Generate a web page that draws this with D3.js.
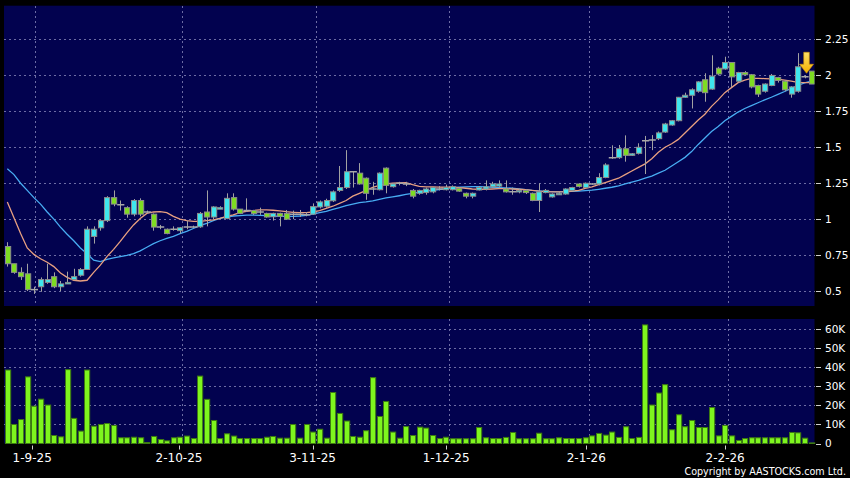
<!DOCTYPE html>
<html><head><meta charset="utf-8">
<script src="https://cdn.jsdelivr.net/npm/d3@7"></script>
<style>html,body{margin:0;padding:0;background:#000;}svg{display:block;}</style>
</head><body>
<svg id="chart" width="850" height="478"></svg>
<script>
// ---- data ----
const openP  = [0.81,0.69,0.63,0.62,0.51,0.53,0.56,0.60,0.53,0.555,0.58,0.61,0.65,0.88,0.94,0.99,1.15,1.10,1.08,1.035,1.13,1.05,1.035,0.945,0.93,0.93,0.92,0.945,0.945,0.947,1.05,1.015,1.07,1.005,1.15,1.07,1.06,1.06,1.05,1.04,1.017,1.04,1.04,1.035,1.035,1.03,1.035,1.085,1.09,1.128,1.20,1.22,1.33,1.32,1.285,1.21,1.205,1.355,1.226,1.25,1.245,1.20,1.18,1.185,1.19,1.21,1.205,1.205,1.215,1.18,1.16,1.203,1.21,1.225,1.23,1.21,1.19,1.19,1.20,1.18,1.13,1.185,1.155,1.175,1.175,1.20,1.245,1.22,1.245,1.245,1.29,1.428,1.428,1.49,1.444,1.458,1.546,1.55,1.56,1.606,1.655,1.685,1.848,1.862,1.89,1.97,1.905,2.05,2.045,2.09,1.96,2.02,2.005,1.93,1.89,1.93,1.985,1.96,1.87,1.89,1.99,2.03];
const highP  = [0.84,0.69,0.665,0.69,0.53,0.595,0.69,0.63,0.57,0.635,0.655,0.66,0.95,0.95,1.00,1.16,1.20,1.13,1.09,1.14,1.145,1.06,1.04,0.96,0.935,0.95,0.945,0.99,0.955,1.05,1.20,1.09,1.09,1.18,1.18,1.07,1.145,1.065,1.08,1.045,1.045,1.045,1.064,1.06,1.064,1.05,1.11,1.13,1.142,1.20,1.37,1.48,1.33,1.39,1.29,1.26,1.325,1.36,1.25,1.26,1.26,1.21,1.205,1.22,1.225,1.23,1.24,1.235,1.22,1.185,1.185,1.23,1.27,1.26,1.27,1.27,1.22,1.21,1.21,1.185,1.25,1.21,1.18,1.19,1.215,1.225,1.25,1.255,1.25,1.32,1.389,1.514,1.516,1.583,1.46,1.528,1.579,1.585,1.61,1.67,1.69,1.85,1.88,1.91,1.96,2.015,2.14,2.06,2.13,2.09,2.025,2.03,2.01,1.935,1.945,2.01,1.99,1.965,1.925,2.155,2.0,2.03];
const lowP   = [0.67,0.62,0.577,0.50,0.48,0.495,0.55,0.52,0.50,0.55,0.575,0.60,0.65,0.83,0.92,0.98,1.09,1.06,1.01,1.02,1.02,1.04,0.92,0.93,0.895,0.92,0.90,0.93,0.94,0.94,0.95,1.0,1.07,1.0,1.06,1.035,1.05,1.03,1.03,1.01,0.99,0.95,0.995,1.0,1.015,1.02,1.03,1.075,1.08,1.12,1.19,1.21,1.22,1.24,1.135,1.17,1.20,1.18,1.22,1.235,1.23,1.145,1.17,1.17,1.18,1.20,1.20,1.20,1.19,1.145,1.145,1.20,1.20,1.22,1.22,1.185,1.17,1.18,1.175,1.125,1.05,1.18,1.15,1.17,1.17,1.195,1.22,1.215,1.24,1.235,1.285,1.42,1.42,1.40,1.44,1.45,1.314,1.48,1.55,1.60,1.65,1.68,1.845,1.77,1.88,1.817,1.90,2.0,2.04,1.92,1.95,2.0,1.91,1.85,1.88,1.925,1.95,1.89,1.845,1.88,1.98,1.94];
const closeP = [0.69,0.63,0.60,0.51,0.51,0.58,0.58,0.53,0.55,0.56,0.60,0.65,0.93,0.93,0.99,1.15,1.105,1.10,1.035,1.13,1.035,1.05,0.945,0.945,0.90,0.93,0.94,0.945,0.945,1.04,1.015,1.085,1.08,1.145,1.07,1.04,1.06,1.04,1.05,1.015,1.04,1.02,1.0,1.035,1.035,1.03,1.087,1.12,1.13,1.19,1.22,1.33,1.33,1.245,1.18,1.21,1.32,1.235,1.245,1.25,1.245,1.16,1.20,1.21,1.22,1.21,1.22,1.226,1.195,1.16,1.18,1.22,1.225,1.245,1.245,1.19,1.19,1.20,1.185,1.13,1.19,1.20,1.175,1.18,1.21,1.22,1.228,1.25,1.245,1.29,1.377,1.428,1.49,1.444,1.455,1.50,1.546,1.55,1.60,1.662,1.685,1.848,1.862,1.90,1.955,1.88,1.995,2.01,2.09,1.99,2.02,2.005,1.92,1.87,1.94,2.0,1.965,1.90,1.92,2.06,1.99,1.94];
// volume in thousands of shares
const volumeK = [38.6,10,12.6,35,19.6,23.3,20.2,4.2,3.5,38.8,13.2,6.5,38.6,9.1,10,10.5,9.5,3,3,3.3,3,0.5,3.7,2.1,1.4,3,3.3,3.9,2.6,35.4,23.2,12.1,2.6,5.1,3.9,2.6,2.6,2.6,2.6,3.3,3.7,2.8,2.8,10,2.8,10,6,7.5,2.8,26.8,15.8,11.8,3.7,3.3,6.7,34.6,14.2,22.1,6,2.8,8.9,4.2,8.6,8.1,4.2,2.6,3.3,2.5,2.5,2.5,2.5,8.4,3,2.6,2.6,3.2,5.8,2.5,2.5,2.5,5.4,2.5,2.5,3,2.6,2.6,2.6,3,4,5.3,4.4,6,3.2,8.8,2.6,3.2,62.3,20.2,26.5,30.9,7.2,15.1,8.8,12.1,8.4,8.4,18.9,4,9.5,4,1.6,2.6,3,3,3,3,3,3,5.8,5.6,2.8,0.3];
const maShort = [1.12,1.01,0.90,0.80,0.755,0.725,0.70,0.67,0.625,0.595,0.575,0.57,0.575,0.63,0.68,0.74,0.79,0.845,0.905,0.96,1.005,1.04,1.05,1.052,1.045,1.02,1.0,0.99,0.985,0.985,0.99,0.995,1.005,1.02,1.03,1.045,1.055,1.06,1.064,1.064,1.062,1.058,1.052,1.048,1.045,1.045,1.05,1.06,1.075,1.09,1.11,1.13,1.16,1.18,1.20,1.222,1.235,1.245,1.25,1.253,1.254,1.24,1.228,1.225,1.224,1.223,1.222,1.222,1.22,1.215,1.21,1.208,1.208,1.21,1.213,1.213,1.21,1.208,1.205,1.20,1.195,1.192,1.19,1.19,1.192,1.196,1.20,1.215,1.225,1.24,1.255,1.27,1.285,1.31,1.335,1.36,1.385,1.42,1.465,1.50,1.525,1.555,1.60,1.645,1.69,1.73,1.785,1.83,1.88,1.915,1.95,1.968,1.98,1.98,1.978,1.976,1.974,1.968,1.96,1.952,1.95,1.95];
const maLong  = [1.35,1.31,1.25,1.20,1.15,1.105,1.05,1.00,0.945,0.895,0.85,0.80,0.76,0.715,0.705,0.72,0.73,0.74,0.748,0.76,0.78,0.805,0.83,0.85,0.867,0.88,0.90,0.915,0.935,0.955,0.97,0.99,1.005,1.015,1.022,1.025,1.028,1.028,1.027,1.025,1.022,1.02,1.02,1.02,1.022,1.026,1.035,1.045,1.055,1.068,1.08,1.095,1.105,1.115,1.12,1.128,1.138,1.148,1.155,1.163,1.172,1.18,1.188,1.195,1.20,1.206,1.212,1.218,1.222,1.225,1.226,1.226,1.225,1.222,1.22,1.218,1.215,1.21,1.205,1.20,1.197,1.193,1.191,1.19,1.191,1.193,1.195,1.198,1.202,1.208,1.215,1.222,1.232,1.245,1.258,1.27,1.285,1.30,1.32,1.34,1.37,1.40,1.43,1.47,1.52,1.565,1.61,1.645,1.685,1.715,1.745,1.77,1.79,1.81,1.83,1.848,1.868,1.888,1.91,1.93,1.948,1.96];
const priceTicks = [0.5,0.75,1,1.25,1.5,1.75,2,2.25];
const volTicksK  = [0,10,20,30,40,50,60];
const dateTickIdx    = [4.2,26.3,46.4,66.5,87.6,108.5];
const dateTickLabels = ["1-9-25","2-10-25","3-11-25","1-12-25","2-1-26","2-2-26"];
const markerIdx = 120.3, markerTip = 2.015;

// ---- layout ----
const svg = d3.select("#chart");
const L = 4, R = 814.5;
const pTop = 5.7, pBot = 306, vTop = 319, vBot = 443.5;
const n = closeP.length;
const x = d3.scaleLinear().domain([-0.5, n - 0.5]).range([L, R]);
const yP = d3.scaleLinear().domain([0.396, 2.485]).range([pBot, pTop]);
const yV = d3.scaleLinear().domain([0, 65.4]).range([vBot, vTop]);
const idx = d3.range(n);
const bw = 5.2;
const font = "'DejaVu Sans', Verdana, sans-serif";
const gridCol = "#6c6ca4";

svg.append("rect").attr("width",850).attr("height",478).attr("fill","#000");
svg.append("rect").attr("x",L).attr("y",pTop).attr("width",R-L).attr("height",pBot-pTop).attr("fill","#02024f");
svg.append("rect").attr("x",L).attr("y",vTop).attr("width",R-L).attr("height",vBot-vTop).attr("fill","#02024f");

// grids
const grid = svg.append("g").attr("stroke",gridCol).attr("stroke-width",1).attr("stroke-dasharray","2,3").attr("shape-rendering","crispEdges");
grid.selectAll(".hp").data(priceTicks).join("line")
  .attr("x1",L).attr("x2",R).attr("y1",d=>Math.round(yP(d))+0.5).attr("y2",d=>Math.round(yP(d))+0.5);
grid.selectAll(".hv").data(volTicksK.filter(d=>d>0)).join("line").attr("class","hv")
  .attr("x1",L).attr("x2",R).attr("y1",d=>Math.round(yV(d))+0.5).attr("y2",d=>Math.round(yV(d))+0.5);
grid.selectAll(".vp").data(dateTickIdx).join("line").attr("class","vp")
  .attr("x1",d=>Math.round(x(d))+0.5).attr("x2",d=>Math.round(x(d))+0.5).attr("y1",pTop).attr("y2",pBot);
grid.selectAll(".vv").data(dateTickIdx).join("line").attr("class","vv")
  .attr("x1",d=>Math.round(x(d))+0.5).attr("x2",d=>Math.round(x(d))+0.5).attr("y1",vTop).attr("y2",vBot);

// price clip
svg.append("clipPath").attr("id","pclip").append("rect").attr("x",L).attr("y",pTop).attr("width",R-L).attr("height",pBot-pTop);
const pg = svg.append("g").attr("clip-path","url(#pclip)");

// moving averages
const line = arr => d3.line().x(i=>x(i)).y(i=>yP(arr[i])).curve(d3.curveLinear)(idx);
pg.append("path").attr("d",line(maLong)).attr("fill","none").attr("stroke","#48acf2").attr("stroke-width",1.3);
pg.append("path").attr("d",line(maShort)).attr("fill","none").attr("stroke","#e8a080").attr("stroke-width",1.3);

// wicks
pg.selectAll(".wick").data(idx).join("line").attr("class","wick")
  .attr("x1",i=>Math.round(x(i))+0.5).attr("x2",i=>Math.round(x(i))+0.5)
  .attr("y1",i=>yP(highP[i])).attr("y2",i=>yP(lowP[i]))
  .attr("stroke","#a2a2a2").attr("stroke-width",1);
// bodies
const up = i => closeP[i] > openP[i];
pg.selectAll(".body").data(idx.filter(i=>closeP[i]!==openP[i])).join("rect").attr("class","body")
  .attr("x",i=>Math.round(x(i)-bw/2)+0.5).attr("width",bw)
  .attr("y",i=>yP(Math.max(openP[i],closeP[i])))
  .attr("height",i=>Math.max(1.5, yP(Math.min(openP[i],closeP[i]))-yP(Math.max(openP[i],closeP[i]))))
  .attr("fill",i=>up(i)?"#3fe6ee":"#7edc22")
  .attr("stroke","#8c8c8c").attr("stroke-width",1);
pg.selectAll(".doji").data(idx.filter(i=>closeP[i]===openP[i])).join("line").attr("class","doji")
  .attr("x1",i=>x(i)-bw/2-0.5).attr("x2",i=>x(i)+bw/2+1.5)
  .attr("y1",i=>yP(closeP[i])).attr("y2",i=>yP(closeP[i]))
  .attr("stroke","#a8a8a8").attr("stroke-width",1.5);

// marker arrow
const ax = x(markerIdx), ay = yP(markerTip);
const defs = svg.append("defs");
const gr = defs.append("linearGradient").attr("id","ag").attr("x1",0).attr("y1",0).attr("x2",0).attr("y2",1);
gr.append("stop").attr("offset","0").attr("stop-color","#ffe066");
gr.append("stop").attr("offset","1").attr("stop-color","#f2b000");
svg.append("path")
  .attr("d",`M${ax-2.8},${ay-21} L${ax+2.8},${ay-21} L${ax+2.8},${ay-9} L${ax+7},${ay-9} L${ax},${ay} L${ax-7},${ay-9} L${ax-2.8},${ay-9} Z`)
  .attr("fill","url(#ag)").attr("stroke","#d09000").attr("stroke-width",0.6);

// volume bars
svg.append("g").selectAll("rect").data(idx).join("rect")
  .attr("x",i=>Math.round(x(i)-bw/2)+0.5).attr("width",bw)
  .attr("y",i=>yV(volumeK[i])).attr("height",i=>Math.max(0.5,yV(0)-yV(volumeK[i])))
  .attr("fill","#7ef51e").attr("stroke","#3d7a12").attr("stroke-width",1);

// right axes
const ax1 = svg.append("g");
ax1.selectAll("line").data(priceTicks).join("line")
  .attr("x1",816).attr("x2",821).attr("y1",d=>Math.round(yP(d))+0.5).attr("y2",d=>Math.round(yP(d))+0.5)
  .attr("stroke","#cfcfcf").attr("shape-rendering","crispEdges");
ax1.selectAll("text").data(priceTicks).join("text")
  .attr("x",825).attr("y",d=>yP(d)).attr("dy","0.36em")
  .attr("fill","#fff").attr("font-family",font).attr("font-size","10.5px")
  .text(d=>d3.format("~g")(d));
const ax2 = svg.append("g");
ax2.selectAll("line").data(volTicksK).join("line")
  .attr("x1",816).attr("x2",821).attr("y1",d=>Math.round(yV(d))+0.5).attr("y2",d=>Math.round(yV(d))+0.5)
  .attr("stroke","#cfcfcf").attr("shape-rendering","crispEdges");
ax2.selectAll("text").data(volTicksK).join("text")
  .attr("x",825).attr("y",d=>yV(d)).attr("dy","0.36em")
  .attr("fill","#fff").attr("font-family",font).attr("font-size","10.5px")
  .text(d=>d===0?"0":d+"K");

// date axis
const ax3 = svg.append("g");
ax3.selectAll("line").data(dateTickIdx).join("line")
  .attr("x1",d=>Math.round(x(d)-3)+0.5).attr("x2",d=>Math.round(x(d)-3)+0.5).attr("y1",vBot+2).attr("y2",vBot+6)
  .attr("stroke","#cfcfcf");
ax3.selectAll("text").data(dateTickLabels).join("text")
  .attr("x",(d,i)=>x(dateTickIdx[i])-3).attr("y",462).attr("text-anchor","middle")
  .attr("fill","#fff").attr("font-family",font).attr("font-size","12px").text(d=>d);

svg.append("text").attr("x",846).attr("y",475).attr("text-anchor","end")
  .attr("fill","#fff").attr("font-family",font).attr("font-size","9.6px")
  .text("Copyright by AASTOCKS.com Ltd.");
</script>
</body></html>
